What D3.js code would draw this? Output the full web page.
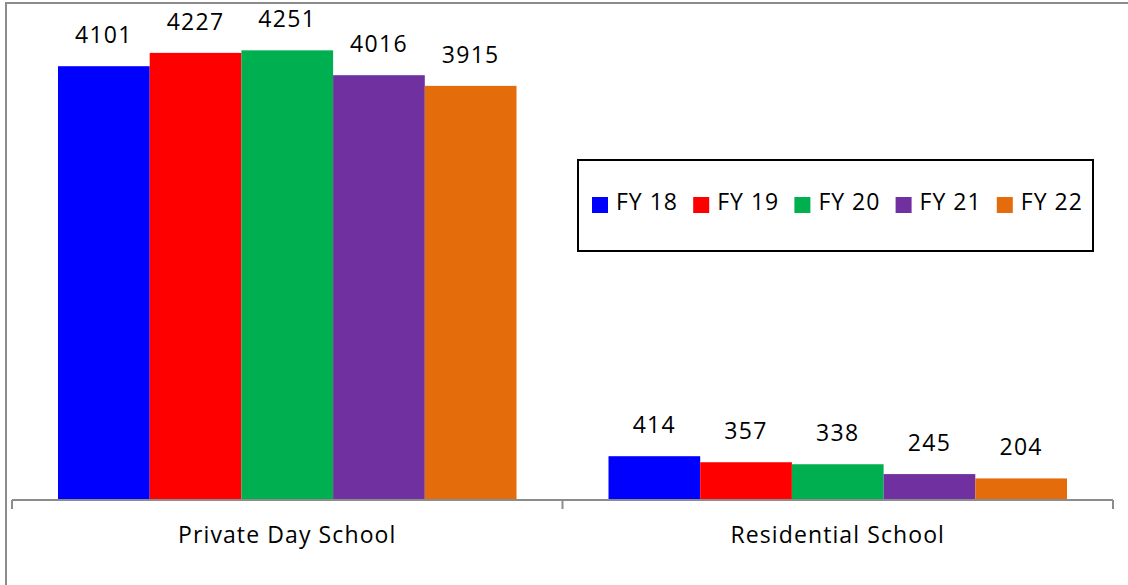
<!DOCTYPE html>
<html>
<head>
<meta charset="utf-8">
<script src="https://cdn.jsdelivr.net/npm/d3@7"></script>
<style>
  html, body { margin: 0; padding: 0; background: #fff; }
  svg { display: block; font-family: "Open Sans", sans-serif; }
</style>
</head>
<body>
<div id="chart"></div>
<script>
const categories = ['Private Day School', 'Residential School'];
const seriesNames = ['FY 18', 'FY 19', 'FY 20', 'FY 21', 'FY 22'];
const fy18 = [4101, 414];
const fy19 = [4227, 357];
const fy20 = [4251, 338];
const fy21 = [4016, 245];
const fy22 = [3915, 204];
const colors = ['#0000ff', '#ff0000', '#00b050', '#7030a0', '#e46c0a'];

const seriesValues = [fy18, fy19, fy20, fy21, fy22];
const data = categories.map((c, ci) => ({
  category: c,
  values: seriesNames.map((s, si) => ({ series: s, value: seriesValues[si][ci] }))
}));

const width = 1128;
const height = 585;
const dims = { left: 12, right: 1113, top: 24, bottom: 500 };

const svg = d3.select('#chart').append('svg')
  .attr('width', width)
  .attr('height', height);

// outer frame
svg.append('rect')
  .attr('x', 6).attr('y', 3)
  .attr('width', width + 10).attr('height', height + 10)
  .attr('fill', 'none')
  .attr('stroke', '#8c8c8c')
  .attr('stroke-width', 2);

const xScale = d3.scaleBand()
  .domain(categories)
  .range([dims.left, dims.right])
  .paddingInner(0)
  .paddingOuter(0);

const xInner = d3.scaleBand()
  .domain(seriesNames)
  .range([46, xScale.bandwidth() - 46]);

const yScale = d3.scaleLinear()
  .domain([0, 4500])
  .range([dims.bottom, dims.top]);

const groups = svg.selectAll('g.cat')
  .data(data)
  .enter()
  .append('g')
  .attr('class', 'cat')
  .attr('transform', d => `translate(${xScale(d.category)},0)`);

groups.selectAll('rect')
  .data(d => d.values)
  .enter()
  .append('rect')
  .attr('x', d => xInner(d.series))
  .attr('y', d => yScale(d.value))
  .attr('width', xInner.bandwidth())
  .attr('height', d => yScale(0) - yScale(d.value))
  .attr('fill', (d, i) => colors[i]);

groups.selectAll('text')
  .data(d => d.values)
  .enter()
  .append('text')
  .attr('x', d => xInner(d.series) + xInner.bandwidth() / 2)
  .attr('y', d => yScale(d.value) - 23)
  .attr('text-anchor', 'middle')
  .attr('fill', '#000')
  .style('font-size', '23px')
  .style('letter-spacing', '1.3px')
  .text(d => d.value);

// category axis
const axis = svg.append('g');
axis.append('line')
  .attr('x1', dims.left).attr('x2', dims.right)
  .attr('y1', dims.bottom).attr('y2', dims.bottom)
  .attr('stroke', '#8c8c8c')
  .attr('stroke-width', 2);

const tickXs = categories.map(c => xScale(c)).concat([dims.right]);
axis.selectAll('line.tick')
  .data(tickXs)
  .enter()
  .append('line')
  .attr('class', 'tick')
  .attr('x1', d => d).attr('x2', d => d)
  .attr('y1', dims.bottom).attr('y2', dims.bottom + 9)
  .attr('stroke', '#8c8c8c')
  .attr('stroke-width', 2);

axis.selectAll('text')
  .data(categories)
  .enter()
  .append('text')
  .attr('x', d => xScale(d) + xScale.bandwidth() / 2)
  .attr('y', 543)
  .attr('text-anchor', 'middle')
  .attr('fill', '#000')
  .style('font-size', '23px')
  .style('letter-spacing', '1.1px')
  .text(d => d);

// legend
const legend = svg.append('g').attr('transform', 'translate(578,160)');
legend.append('rect')
  .attr('x', 0).attr('y', 0)
  .attr('width', 515).attr('height', 91)
  .attr('fill', '#fff')
  .attr('stroke', '#000')
  .attr('stroke-width', 2);

const items = legend.selectAll('g.item')
  .data(seriesNames)
  .enter()
  .append('g')
  .attr('class', 'item')
  .attr('transform', (d, i) => `translate(${14 + i * 101.2},0)`);

items.append('rect')
  .attr('x', 0).attr('y', 37)
  .attr('width', 16).attr('height', 16)
  .attr('fill', (d, i) => colors[i]);

items.append('text')
  .attr('x', 24).attr('y', 50)
  .attr('fill', '#000')
  .style('font-size', '23px')
  .style('letter-spacing', '1px')
  .text(d => d);
</script>
</body>
</html>
